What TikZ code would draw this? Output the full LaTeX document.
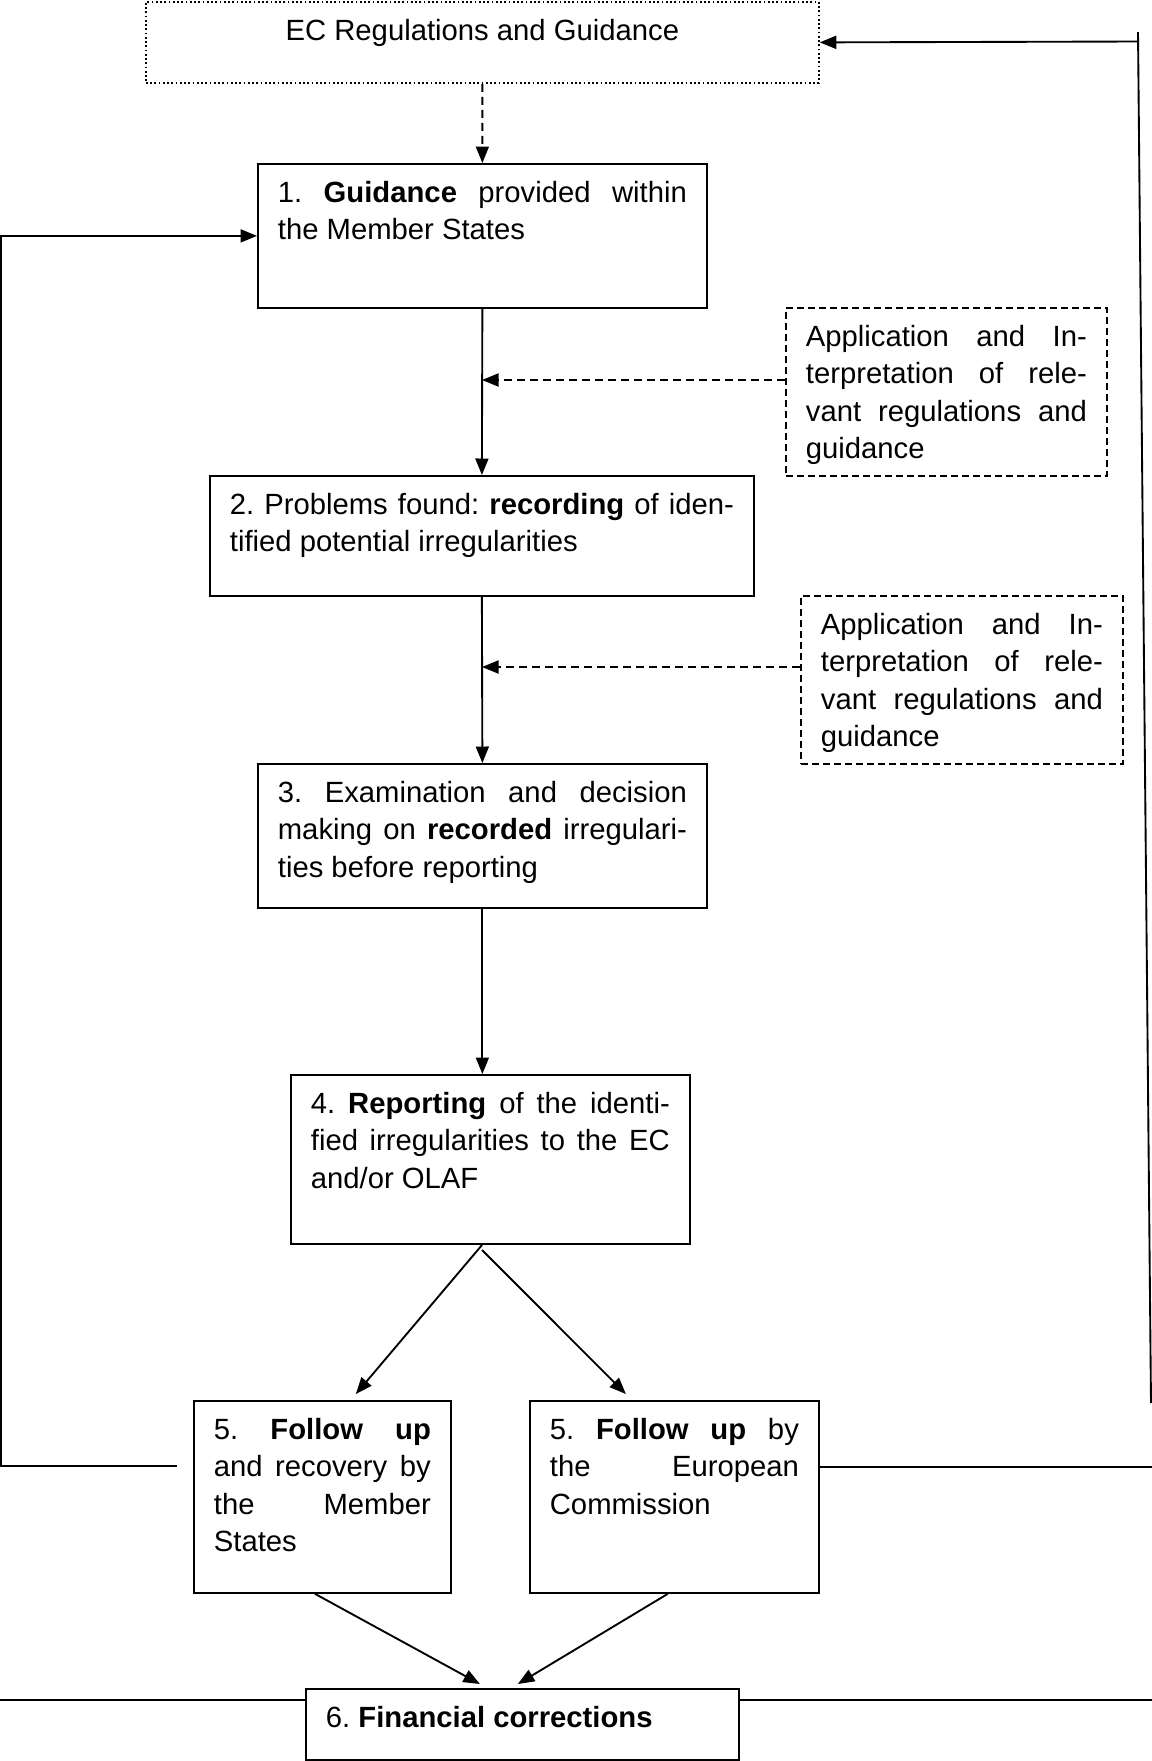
\documentclass[tikz,border=0pt]{standalone}
\usepackage{fontspec}
\setmainfont{Liberation Sans}
\usetikzlibrary{arrows.meta}

\newcommand{\stagetext}[3]{\parbox[t][#2][t]{#1}{\frenchspacing\hbadness=10000 \tolerance=10000 \hyphenpenalty=10000 #3}}

\begin{document}
\begin{tikzpicture}[x=0.4pt,y=-0.4pt,
    font=\fontsize{11.7pt}{14.9pt}\selectfont,
    stage/.style={draw,line width=0.7pt,anchor=north west,inner xsep=8pt,inner ysep=7pt},
    note/.style={stage,dash pattern=on 2.8pt off 1.6pt},
    source/.style={stage,densely dotted},
    flow/.style={line width=0.75pt,-{Triangle[length=6.6pt,width=5.2pt]}},
    hint/.style={flow,dash pattern=on 3.2pt off 2pt},
    rule/.style={line width=0.75pt}]
  \useasboundingbox (0,0) rectangle (1152,1761);

  \node[source] (ec) at (145,1) {\stagetext{253.2pt}{18.4pt}{\centering EC Regulations and Guidance}};
  \node[stage] (b1) at (257,163) {\stagetext{163.6pt}{43.6pt}{1. \textbf{Guidance} provided within\linebreak the Member States}};
  \node[note] (a1) at (785,307) {\stagetext{112.4pt}{53.2pt}{Application and In-\linebreak terpretation of rele-\linebreak vant regulations and\linebreak guidance}};
  \node[stage] (b2) at (209,475) {\stagetext{201.6pt}{34pt}{2. Problems found: \textbf{recording} of iden-\linebreak tified potential irregularities}};
  \node[note] (a2) at (800,595) {\stagetext{112.8pt}{53.2pt}{Application and In-\linebreak terpretation of rele-\linebreak vant regulations and\linebreak guidance}};
  \node[stage] (b3) at (257,763) {\stagetext{163.6pt}{43.6pt}{3. Examination and decision\linebreak making on \textbf{recorded} irregulari-\linebreak ties before reporting}};
  \node[stage] (b4) at (290,1074) {\stagetext{143.6pt}{53.6pt}{4. \textbf{Reporting} of the identi-\linebreak fied irregularities to the EC\linebreak and/or OLAF}};
  \node[stage] (b5a) at (193,1400) {\stagetext{86.8pt}{62.8pt}{5. \textbf{Follow up}\linebreak and recovery by\linebreak the Member\linebreak States}};
  \node[stage] (b5b) at (529,1400) {\stagetext{99.6pt}{62.8pt}{5. \textbf{Follow up} by\linebreak the European\linebreak Commission}};
  \node[stage] (b6) at (305,1688) {\stagetext{157.2pt}{14.4pt}{6. \textbf{Financial corrections}}};

  \coordinate (m1) at (482,380);
  \coordinate (m2) at (482,667);
  \coordinate (forkl) at (482,1245);
  \coordinate (forkr) at (482,1250);
  \draw[hint] (ec.south) -- (b1.north);
  \draw[flow] (b1.south) -- (b2.north);
  \draw[hint] (a1.west |- m1) -- (m1);
  \draw[flow] (b2.south) -- (b3.north);
  \draw[hint] (a2.west |- m2) -- (m2);
  \draw[flow] (b3.south) -- (b3.south |- b4.north);
  \draw[flow] (forkl) -- ([xshift=13.4pt,yshift=2.4pt]b5a.north);
  \draw[flow] (forkr) -- ([xshift=-19.4pt,yshift=2.4pt]b5b.north);
  \draw[flow] ([xshift=-3pt]b5a.south) -- ([xshift=-17pt,yshift=1.6pt]b6.north);
  \draw[flow] ([xshift=-2.6pt]b5b.south) -- ([xshift=-1.8pt,yshift=1.6pt]b6.north);

  \coordinate (lstart) at (177,1466);
  \coordinate (lcorner) at (1,1466);
  \draw[flow] (lstart) -- (lcorner) |- (b1.west);

  \coordinate (rend) at (1152,1467);
  \coordinate (rlow) at (1151,1403);
  \coordinate (rtip) at (1138,32);
  \coordinate (rtop) at (1138,41.5);
  \draw[rule] (b5b.east |- rend) -- (rend);
  \draw[rule] (rlow) -- (rtip);
  \draw[flow] (rtop) -- (ec.east);

  \coordinate (hl) at (0,1700);
  \coordinate (hr) at (1152,1700);
  \draw[rule] (hl) -- (b6.west |- hl);
  \draw[rule] (b6.east |- hr) -- (hr);
\end{tikzpicture}
\end{document}
